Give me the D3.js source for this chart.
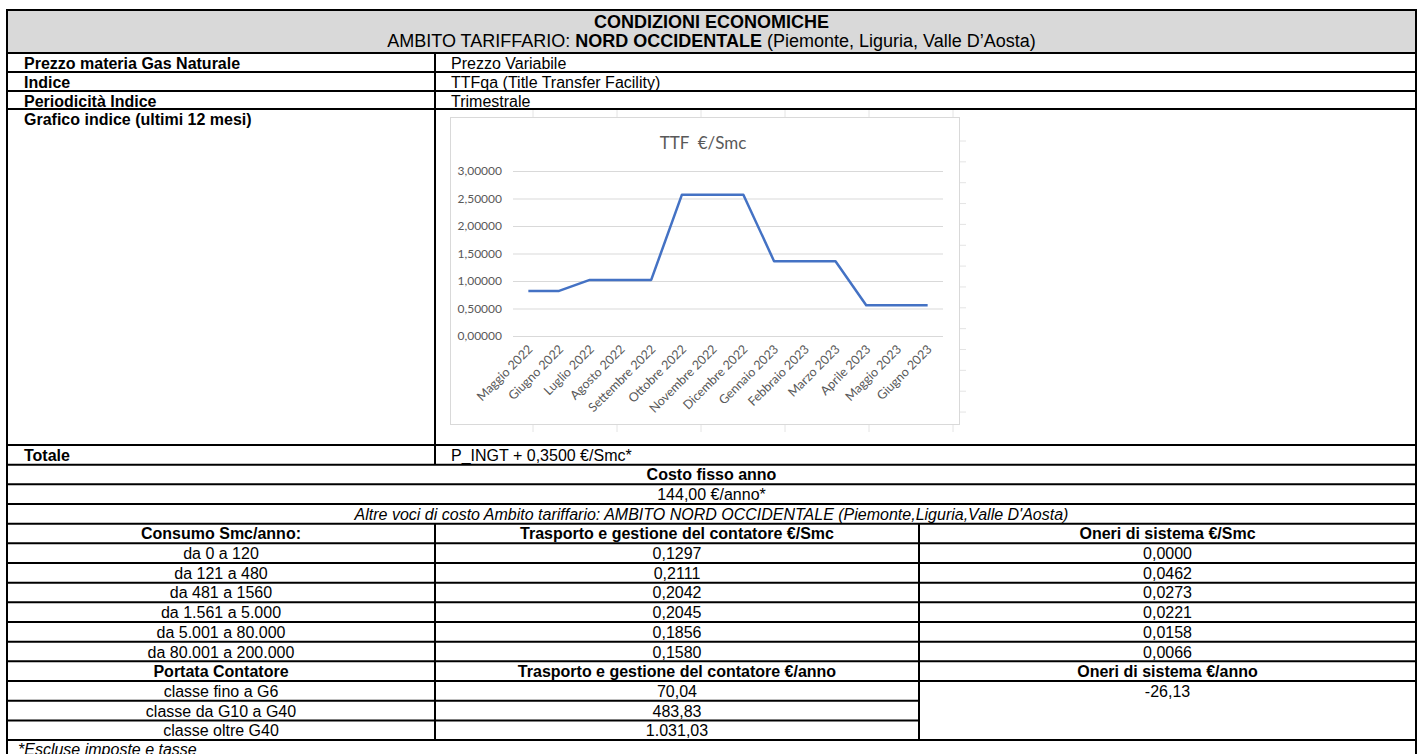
<!DOCTYPE html>
<html>
<head>
<meta charset="utf-8">
<script src="https://cdn.jsdelivr.net/npm/d3@7"></script>
<style>
  body { margin: 0; background: #fff; }
</style>
</head>
<body>
<div id="sheet"></div>
<script>
// ---- data ----
var months = ["Maggio 2022", "Giugno 2022", "Luglio 2022", "Agosto 2022", "Settembre 2022",
              "Ottobre 2022", "Novembre 2022", "Dicembre 2022", "Gennaio 2023", "Febbraio 2023",
              "Marzo 2023", "Aprile 2023", "Maggio 2023", "Giugno 2023"];
var ttfValues = [0.82, 0.82, 1.02, 1.02, 1.02, 2.57, 2.57, 2.57, 1.36, 1.36, 1.36, 0.56, 0.56, 0.56];
var yTicks = [0, 0.5, 1, 1.5, 2, 2.5, 3];

var infoLabels = ["Prezzo materia Gas Naturale", "Indice", "Periodicità Indice", "Grafico indice (ultimi 12 mesi)"];
var infoValues = ["Prezzo Variabile", "TTFqa (Title Transfer Facility)", "Trimestrale", ""];

var consumoRanges = ["da 0 a 120", "da 121 a 480", "da 481 a 1560", "da 1.561 a 5.000",
                     "da 5.001 a 80.000", "da 80.001 a 200.000"];
var trasportoSmc = ["0,1297", "0,2111", "0,2042", "0,2045", "0,1856", "0,1580"];
var oneriSmc = ["0,0000", "0,0462", "0,0273", "0,0221", "0,0158", "0,0066"];

var classiContatore = ["classe fino a G6", "classe da G10 a G40", "classe oltre G40"];
var trasportoAnno = ["70,04", "483,83", "1.031,03"];
var oneriAnno = ["-26,13"];

// ---- layout ----
var W = 1419, H = 754;
var L = 7, R = 1416, C1 = 435, C2 = 919;
var tableTop = 10, headBottom = 53;
var infoRows = [53, 72, 91, 109, 445];   // row edges of the info block
var rowH = 19.67;
var FONT = "'Liberation Sans', Arial, sans-serif";
var CHART_FONT = "Lato, 'Open Sans', sans-serif";
var BODY_SIZE = 16;

var svg = d3.select("#sheet").append("svg")
    .attr("width", W)
    .attr("height", H);

var gBack = svg.append("g");
var gChart = svg.append("g");
var gLines = svg.append("g");
var gText = svg.append("g");

function hline(x1, x2, y) {
    gLines.append("line").attr("x1", x1 - 1).attr("x2", x2 + 1).attr("y1", y).attr("y2", y)
        .attr("stroke", "#000").attr("stroke-width", 2);
}
function vline(x, y1, y2) {
    gLines.append("line").attr("x1", x).attr("x2", x).attr("y1", y1).attr("y2", y2)
        .attr("stroke", "#000").attr("stroke-width", 2);
}
function label(x, y, str, opts) {
    opts = opts || {};
    return gText.append("text")
        .attr("x", x).attr("y", y)
        .attr("text-anchor", opts.anchor || "start")
        .style("font-family", FONT)
        .style("font-size", (opts.size || BODY_SIZE) + "px")
        .style("font-weight", opts.bold ? "bold" : "normal")
        .style("font-style", opts.italic ? "italic" : "normal")
        .attr("fill", "#000")
        .text(str);
}

// header band
gBack.append("rect")
    .attr("x", L).attr("y", tableTop).attr("width", R - L).attr("height", headBottom - tableTop)
    .attr("fill", "#d9d9d9");

label((L + R) / 2, 27.5, "CONDIZIONI ECONOMICHE", {anchor: "middle", bold: true, size: 18});
var sub = label((L + R) / 2, 46.5, "", {anchor: "middle", size: 18});
sub.append("tspan").text("AMBITO TARIFFARIO: ");
sub.append("tspan").style("font-weight", "bold").text("NORD OCCIDENTALE");
sub.append("tspan").text(" (Piemonte, Liguria, Valle D\u2019Aosta)");

// info block
infoLabels.forEach(function(t, i) {
    var y0 = infoRows[i];
    label(L + 17, y0 + 15.5, t, {bold: true});
    if (infoValues[i]) label(C1 + 16, y0 + 15.5, infoValues[i]);
});

// lower block rows
var lowerTop = infoRows[4];
function rowY(k) { return lowerTop + k * rowH; }
function base(k) { return rowY(k) + 15.8; }
var mid1 = (L + C1) / 2, mid2 = (C1 + C2) / 2, mid3 = (C2 + R) / 2;

label(L + 17, base(0), "Totale", {bold: true});
label(C1 + 16, base(0), "P_INGT + 0,3500 \u20ac/Smc*");
label((L + R) / 2, base(1), "Costo fisso anno", {anchor: "middle", bold: true});
label((L + R) / 2, base(2), "144,00 \u20ac/anno*", {anchor: "middle"});
label((L + R) / 2, base(3), "Altre voci di costo Ambito tariffario: AMBITO NORD OCCIDENTALE (Piemonte,Liguria,Valle D'Aosta)",
      {anchor: "middle", italic: true});

label(mid1, base(4), "Consumo Smc/anno:", {anchor: "middle", bold: true});
label(mid2, base(4), "Trasporto e gestione del contatore \u20ac/Smc", {anchor: "middle", bold: true});
label(mid3, base(4), "Oneri di sistema \u20ac/Smc", {anchor: "middle", bold: true});
consumoRanges.forEach(function(t, i) {
    label(mid1, base(5 + i), t, {anchor: "middle"});
    label(mid2, base(5 + i), trasportoSmc[i], {anchor: "middle"});
    label(mid3, base(5 + i), oneriSmc[i], {anchor: "middle"});
});
label(mid1, base(11), "Portata Contatore", {anchor: "middle", bold: true});
label(mid2, base(11), "Trasporto e gestione del contatore \u20ac/anno", {anchor: "middle", bold: true});
label(mid3, base(11), "Oneri di sistema \u20ac/anno", {anchor: "middle", bold: true});
classiContatore.forEach(function(t, i) {
    label(mid1, base(12 + i), t, {anchor: "middle"});
    label(mid2, base(12 + i), trasportoAnno[i], {anchor: "middle"});
});
label(mid3, base(12), oneriAnno[0], {anchor: "middle"});
label(L + 11, base(15) - 1, "*Escluse imposte e tasse", {italic: true});

// borders
hline(L, R, tableTop);
hline(L, R, headBottom);
infoRows.slice(1).forEach(function(y) { hline(L, R, y); });
for (var k = 1; k <= 15; k++) {
    if (k >= 13 && k < 15) {
        hline(L, C2, rowY(k));
    } else {
        hline(L, R, rowY(k));
    }
}
vline(L, tableTop - 1, H);
vline(R, tableTop - 1, H);
vline(C1, infoRows[0], rowY(1));
vline(C1, rowY(4), rowY(15));
vline(C2, rowY(4), rowY(15));

// ---- chart (Excel-like embedded line chart) ----
var chartBox = {x: 450, y: 117, w: 509, h: 307};

// faint worksheet cell lines behind the chart
var sheetCols = [533, 617, 701, 785, 869, 953];
var sheetRows = d3.range(14).map(function(i) { return 141 + i * 20.85; });
gChart.selectAll("line.vcell").data(sheetCols).enter().append("line")
    .attr("x1", function(d) { return d; }).attr("x2", function(d) { return d; })
    .attr("y1", 110).attr("y2", 432)
    .attr("stroke", "#e4e4e4").attr("stroke-width", 1);
gChart.selectAll("line.hcell").data(sheetRows).enter().append("line")
    .attr("x1", 450).attr("x2", 966)
    .attr("y1", function(d) { return d; }).attr("y2", function(d) { return d; })
    .attr("stroke", "#e4e4e4").attr("stroke-width", 1);

gChart.append("rect")
    .attr("x", chartBox.x + 0.5).attr("y", chartBox.y + 0.5)
    .attr("width", chartBox.w).attr("height", chartBox.h)
    .attr("fill", "#fff").attr("stroke", "#d9d9d9").attr("stroke-width", 1);

var x = d3.scaleBand().domain(months).range([513, 943]);
var y = d3.scaleLinear().domain([0, 3]).range([336, 171]);

gChart.append("text")
    .attr("x", 703).attr("y", 149)
    .attr("text-anchor", "middle")
    .style("font-family", CHART_FONT)
    .style("font-size", "17px")
    .attr("fill", "#595959")
    .text("TTF\u00a0 \u20ac/Smc");

var yAxis = d3.axisLeft(y).tickValues(yTicks).tickSize(-(943 - 513)).tickPadding(11)
    .tickFormat(function(d) { return d3.format(".5f")(d).replace(".", ","); });
var gy = gChart.append("g").attr("transform", "translate(513,0)").call(yAxis);
gy.select(".domain").remove();
gy.selectAll(".tick line").attr("stroke", "#d9d9d9").attr("stroke-width", 1);
gy.selectAll(".tick text")
    .style("font-family", CHART_FONT).style("font-size", "12px").attr("fill", "#595959");

var xAxis = d3.axisBottom(x).tickSize(0).tickPadding(0);
var gx = gChart.append("g").attr("transform", "translate(0," + y(0) + ")").call(xAxis);
gx.select(".domain").remove();
gx.selectAll(".tick text")
    .style("font-family", CHART_FONT).style("font-size", "12.5px").attr("fill", "#595959")
    .attr("text-anchor", "end")
    .attr("dy", "0.35em")
    .attr("y", 0)
    .attr("transform", "translate(2,11) rotate(-45)");

var line = d3.line()
    .x(function(d, i) { return x(months[i]) + x.bandwidth() / 2; })
    .y(function(d) { return y(d); });
gChart.append("path")
    .datum(ttfValues)
    .attr("d", line)
    .attr("fill", "none")
    .attr("stroke", "#4472c4")
    .attr("stroke-width", 2.5)
    .attr("stroke-linejoin", "round");
</script>
</body>
</html>
